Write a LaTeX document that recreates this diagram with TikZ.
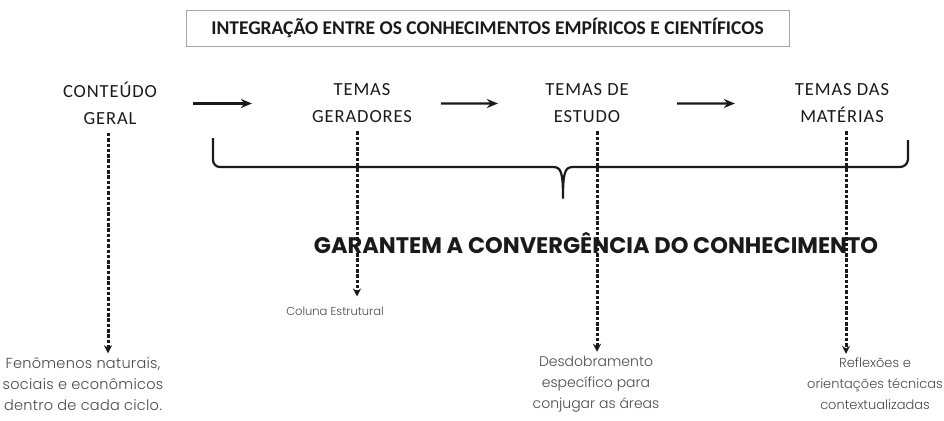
\documentclass[tikz,border=0pt]{standalone}
\usepackage{fontspec}
\setmainfont{Carlito}
\newfontfamily\geolight{Poppins Light}
\newfontfamily\geobold{Poppins Bold}
\usetikzlibrary{arrows.meta,calc}
\definecolor{ink}{HTML}{1A1A1A}
\definecolor{soft}{HTML}{4A4A4A}
\begin{document}
\begin{tikzpicture}[x=1pt,y=-1pt,
  head/.style={align=center,inner sep=0pt,text=ink,font=\fontsize{18.5}{27}\selectfont\addfontfeatures{LetterSpace=5}},
  leaf/.style={align=center,inner sep=0pt,text=soft,font=\geolight\fontsize{14}{21}\selectfont},
  flow/.style={draw=ink,line width=2.2pt,-{Stealth[length=11pt,width=9pt]}},
  dflow/.style={draw=ink,line width=3pt,dash pattern=on 3.5pt off 1.8pt,-{Stealth[length=8pt,width=8pt]}},
  bracestyle/.style={draw=ink,line width=2.2pt,line join=round}]
\useasboundingbox (0,0) rectangle (944,420);
\fill[white] (0,0) rectangle (944,420);
% title
\node[draw=gray!70,line width=0.6pt,minimum width=603pt,minimum height=36pt,inner sep=0pt,
  font=\fontsize{19.5}{22}\selectfont\bfseries,text=ink] (title) at (487.5,28) {INTEGRAÇÃO ENTRE OS CONHECIMENTOS EMPÍRICOS E CIENTÍFICOS};
% heads
\node[head] (cg) at (110,103.5) {CONTEÚDO\\GERAL};
\node[head] (tg) at (362,103.5) {TEMAS\\GERADORES};
\node[head] (te) at (587,103.5) {TEMAS DE\\ESTUDO};
\node[head] (tm) at (842,103.5) {TEMAS DAS\\MATÉRIAS};
\draw[flow] ($(cg)!0.33!(tg)$) -- ($(cg)!0.563!(tg)$);
\draw[flow] ($(tg)!0.351!(te)$) -- ($(tg)!0.604!(te)$);
\draw[flow] ($(te)!0.353!(tm)$) -- ($(te)!0.58!(tm)$);
% leaves
\node[leaf,font=\geolight\fontsize{14.5}{21}\selectfont\addfontfeatures{LetterSpace=2}] (fen) at (83,384) {Fenômenos naturais,\\sociais e econômicos\\dentro de cada ciclo.};
\node[leaf,font=\geolight\fontsize{11.5}{14}\selectfont] (col) at (335,311) {Coluna Estrutural};
\node[leaf] (des) at (596,384) {Desdobramento\\específico para\\conjugar as áreas};
\node[leaf,font=\geolight\fontsize{13}{21}\selectfont] (ref) at (875,384) {Reflexões e\\orientações técnicas\\contextualizadas};
% brace
\draw[bracestyle] (213,138) -- (213,160) arc[start angle=180,end angle=90,radius=7] -- (553,167)
  .. controls (561,167) and (563,172) .. (563,198)
  .. controls (563,172) and (565,167) .. (573,167) -- (900,167)
  arc[start angle=90,end angle=0,radius=8] -- (908,140);
% convergence text
\node[font=\geobold\fontsize{22.5}{26}\selectfont,text=ink,inner sep=0pt] (gar) at (596,243) {GARANTEM A CONVERGÊNCIA DO CONHECIMENTO};
% dashed connectors
\draw[dflow] ([xshift=-2pt,yshift=-8pt]cg.south) -- ([xshift=-2pt,yshift=4pt]cg.south |- fen.north);
\draw[dflow] ([xshift=-5pt,yshift=-8pt]tg.south) -- ([xshift=-5pt,yshift=10pt]tg.south |- col.north);
\draw[dflow] ([xshift=10pt,yshift=-8pt]te.south) -- ([xshift=10pt,yshift=4pt]te.south |- des.north);
\draw[dflow] ([xshift=4pt,yshift=-8pt]tm.south) -- ([xshift=4pt,yshift=4pt]tm.south |- ref.north);
\end{tikzpicture}
\end{document}
